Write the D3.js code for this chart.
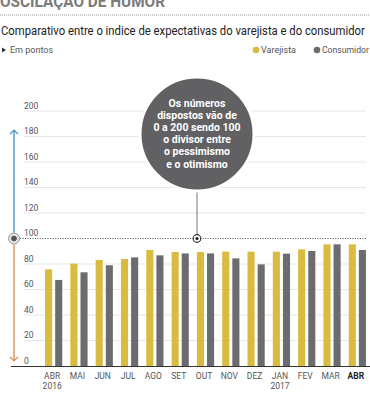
<!DOCTYPE html>
<html>
<head>
<meta charset="utf-8">
<script src="https://cdn.jsdelivr.net/npm/d3@7"></script>
<style>
  body { margin: 0; background: #fff; }
  svg { display: block; font-family: Roboto, "Noto Sans", sans-serif; }
</style>
</head>
<body>
<div id="chart"></div>
<script>
const months = ["ABR", "MAI", "JUN", "JUL", "AGO", "SET", "OUT", "NOV", "DEZ", "JAN", "FEV", "MAR", "ABR "];
const years = ["2016", "", "", "", "", "", "", "", "", "2017", "", "", ""];
const varejista = [75.8, 80.3, 83.1, 83.9, 91, 89.4, 89.4, 89.7, 89.7, 89.7, 91.5, 95.4, 95.4];
const consumidor = [67.5, 73.5, 79, 85.2, 86.8, 88.3, 88.3, 84.4, 79.7, 88.1, 90.2, 95.4, 91];
const yTicks = [0, 20, 40, 60, 80, 100, 120, 140, 160, 180, 200];
const noteLines = ["Os números", "dispostos vão de", "0 a 200 sendo 100", "o divisor entre", "o pessimismo", "e o otimismo"];

const colors = { v: "#d8bb3f", c: "#6c6b70" };
const width = 370, height = 400;

const svg = d3.select("#chart").append("svg")
  .attr("width", width)
  .attr("height", height);

// squeeze a text horizontally (condensed look) so it fits a given width
function fitWidth(sel, x, w) {
  const natural = sel.node().getComputedTextLength();
  const k = Math.min(1, w / natural);
  sel.attr("x", 0).attr("transform", `translate(${x},0) scale(${k},1)`);
}

// header (title is cropped at the top, as in the original)
svg.append("text")
  .attr("x", 0).attr("y", 7)
  .attr("font-size", 16).attr("font-weight", 700)
  .attr("fill", "#7b7b7b")
  .attr("textLength", 165).attr("lengthAdjust", "spacingAndGlyphs")
  .text("OSCILAÇÃO DE HUMOR");

svg.append("line")
  .attr("x1", 0).attr("x2", width).attr("y1", 15).attr("y2", 15)
  .attr("stroke", "#999").attr("stroke-dasharray", "1,1");

const subtitle = svg.append("text")
  .attr("y", 35)
  .attr("font-size", 12.5).attr("fill", "#222")
  .text("Comparativo entre o indice de expectativas do varejista e do consumidor");
fitWidth(subtitle, 1, 364);

svg.append("path")
  .attr("d", "M2,47.5 L6,50 L2,52.5 Z")
  .attr("fill", "#333");
svg.append("text")
  .attr("x", 10).attr("y", 53)
  .attr("font-size", 9).attr("fill", "#555")
  .text("Em pontos");

const legend = [
  { key: "v", label: "Varejista", x: 256, w: 36 },
  { key: "c", label: "Consumidor", x: 317, w: 47 }
];
legend.forEach((d) => {
  svg.append("circle").attr("cx", d.x).attr("cy", 50).attr("r", 3.3).attr("fill", colors[d.key]);
  const t = svg.append("text").attr("y", 53)
    .attr("font-size", 9).attr("fill", "#555")
    .text(d.label);
  fitWidth(t, d.x + 5, d.w);
});

// scales
const y = d3.scaleLinear().domain([0, 200]).range([366, 111]);
const x = d3.scaleBand().domain(months).range([41, 370]).paddingInner(0.32).paddingOuter(0.16);
const xs = d3.scaleBand().domain(["v", "c"]).range([0, x.bandwidth()]).paddingInner(0.3);

// grid
svg.append("g")
  .selectAll("line")
  .data(yTicks.filter((t) => t !== 100 && t !== 0))
  .join("line")
  .attr("x1", 24).attr("x2", 366)
  .attr("y1", (d) => y(d)).attr("y2", (d) => y(d))
  .attr("stroke", "#e6e6e6");

svg.append("g")
  .selectAll("text")
  .data(yTicks)
  .join("text")
  .attr("x", 24).attr("y", (d) => y(d) - 2.5)
  .attr("font-size", 8.5).attr("fill", "#555")
  .text((d) => d);

// bars
const rows = months.map((m, i) => ({ m, v: varejista[i], c: consumidor[i] }));
const groups = svg.append("g").selectAll("g")
  .data(rows)
  .join("g")
  .attr("transform", (d) => `translate(${x(d.m)},0)`);

groups.selectAll("rect")
  .data((d) => ["v", "c"].map((k) => ({ k, value: d[k] })))
  .join("rect")
  .attr("x", (d) => xs(d.k))
  .attr("width", xs.bandwidth())
  .attr("y", (d) => y(d.value))
  .attr("height", (d) => y(0) - y(d.value))
  .attr("fill", (d) => colors[d.k]);

// baseline
svg.append("line")
  .attr("x1", 11).attr("x2", width).attr("y1", y(0) + 0.5).attr("y2", y(0) + 0.5)
  .attr("stroke", "#333").attr("stroke-width", 1.2);

// month labels
const labels = svg.append("g").selectAll("g")
  .data(rows.map((d, i) => ({ m: d.m, yr: years[i], last: i === months.length - 1 })))
  .join("g")
  .attr("transform", (d) => `translate(${x(d.m) + x.bandwidth() / 2 - 1.5},0)`);
labels.append("text")
  .attr("y", 379).attr("text-anchor", "middle")
  .attr("font-size", 8.5)
  .attr("font-weight", (d) => d.last ? 700 : 400)
  .attr("fill", (d) => d.last ? "#222" : "#555")
  .text((d) => d.m.trim());
labels.append("text")
  .attr("y", 389).attr("text-anchor", "middle")
  .attr("font-size", 8.5).attr("fill", "#555")
  .text((d) => d.yr);

// 100 divider
svg.append("line")
  .attr("x1", 20).attr("x2", 366).attr("y1", y(100)).attr("y2", y(100))
  .attr("stroke", "#555").attr("stroke-dasharray", "1,1.5");

// arrows on the left
const ax = 14;
svg.append("line").attr("x1", ax).attr("x2", ax).attr("y1", y(100) - 6).attr("y2", y(185))
  .attr("stroke", "#3c8fc2").attr("stroke-width", 1.3);
svg.append("path").attr("d", `M${ax - 4},${y(185) + 4} L${ax},${y(185)} L${ax + 4},${y(185) + 4}`)
  .attr("fill", "none").attr("stroke", "#3c8fc2").attr("stroke-width", 1.3);
svg.append("line").attr("x1", ax).attr("x2", ax).attr("y1", y(100) + 6).attr("y2", y(4))
  .attr("stroke", "#d58a4e").attr("stroke-width", 1.3);
svg.append("path").attr("d", `M${ax - 4},${y(4) - 4} L${ax},${y(4)} L${ax + 4},${y(4) - 4}`)
  .attr("fill", "none").attr("stroke", "#d58a4e").attr("stroke-width", 1.3);
svg.append("circle").attr("cx", ax).attr("cy", y(100)).attr("r", 5.5)
  .attr("fill", "#e4e4e4").attr("stroke", "#999").attr("stroke-width", 1);
svg.append("circle").attr("cx", ax).attr("cy", y(100)).attr("r", 2.8).attr("fill", "#555");

// note bubble
const cx = 197, cy = 134;
svg.append("line").attr("x1", cx).attr("x2", cx).attr("y1", cy + 50).attr("y2", y(100))
  .attr("stroke", "#777").attr("stroke-width", 1);
svg.append("circle").attr("cx", cx).attr("cy", cy).attr("r", 57)
  .attr("fill", "#616063").attr("stroke", "#fff").attr("stroke-width", 3);
svg.append("g").selectAll("text")
  .data(noteLines)
  .join("text")
  .attr("x", cx).attr("y", (d, i) => 106.5 + i * 12.2)
  .attr("text-anchor", "middle")
  .attr("font-size", 10.5).attr("font-weight", 700).attr("fill", "#fff")
  .text((d) => d);
svg.append("circle").attr("cx", cx).attr("cy", y(100)).attr("r", 3.8)
  .attr("fill", "#fff").attr("stroke", "#333").attr("stroke-width", 1.2);
svg.append("circle").attr("cx", cx).attr("cy", y(100)).attr("r", 1.6).attr("fill", "#222");
</script>
</body>
</html>
